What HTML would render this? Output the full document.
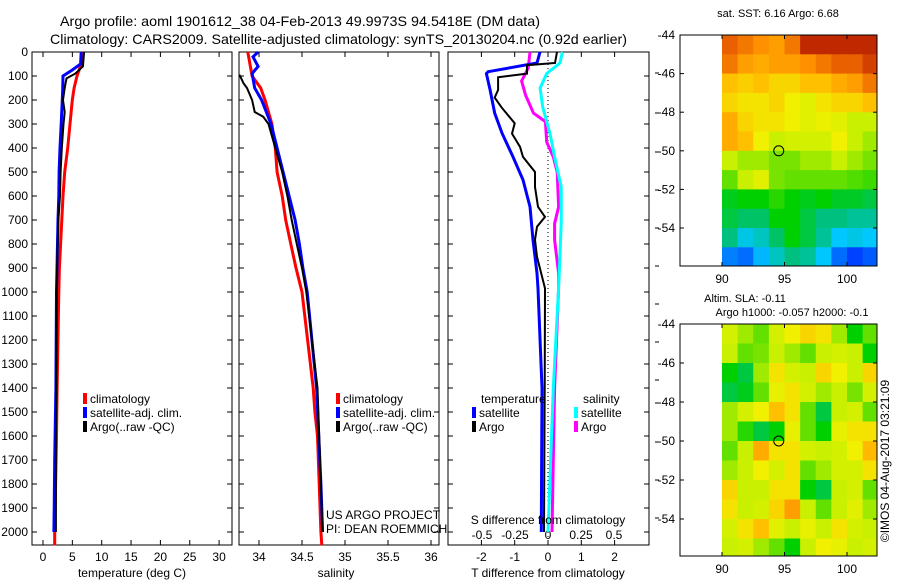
<!DOCTYPE html>
<html><head><meta charset="utf-8">
<style>
html,body{margin:0;padding:0;background:#fff;}
svg{display:block;font-family:"Liberation Sans",sans-serif;}
</style></head>
<body>
<svg id="fig" width="900" height="580" viewBox="0 0 900 580" xmlns="http://www.w3.org/2000/svg">
<text x="60" y="26" font-size="14" textLength="480" lengthAdjust="spacingAndGlyphs">Argo profile: aoml 1901612_38 04-Feb-2013 49.9973S 94.5418E (DM data)</text>
<text x="50" y="44" font-size="14" textLength="577" lengthAdjust="spacingAndGlyphs">Climatology: CARS2009. Satellite-adjusted climatology: synTS_20130204.nc (0.92d earlier)</text>
<g id="g"></g>
</svg>
<script>
// ---- data ----
const tempClimDepth=[0,50,100,150,200,300,400,500,600,700,800,900,1000,1400,1600,2000,2055];
const tempClim=[6.6,6.5,5.8,5.3,5.0,4.6,4.2,3.7,3.4,3.2,3.0,2.8,2.7,2.4,2.3,2.0,2.0];
const tempSatDepth=[0,50,75,100,160,300,400,500,600,700,1000,1400,1700,1900,2000];
const tempSat=[6.5,6.4,5.0,3.4,3.35,3.1,2.9,2.75,2.7,2.55,2.3,2.2,2.0,1.9,1.85];
const tempArgoDepth=[0,60,90,110,150,200,250,300,400,500,600,700,800,1000,1400,1600,2000];
const tempArgo=[7.0,6.8,5.5,4.0,3.7,3.4,3.7,3.5,3.2,3.0,2.9,2.6,2.5,2.3,2.3,2.2,2.2];

const salClimDepth=[0,100,150,200,300,400,500,600,700,800,900,1000,1400,1500,1600,1800,2000,2055];
const salClim=[33.87,33.92,34.02,34.07,34.15,34.19,34.21,34.27,34.31,34.37,34.43,34.5,34.63,34.65,34.68,34.7,34.72,34.73];
const salSatDepth=[0,20,60,90,150,200,300,400,500,600,700,800,900,1000,1400,1800,2000];
const salSat=[33.99,33.93,33.99,33.92,33.95,34.03,34.14,34.21,34.28,34.35,34.42,34.47,34.51,34.56,34.67,34.72,34.74];
const salArgoDepth=[95,100,130,150,200,250,270,300,400,500,600,700,800,900,1000,1400,1800,2000];
const salArgo=[33.77,33.78,33.82,33.86,33.92,33.95,34.05,34.11,34.19,34.27,34.33,34.38,34.44,34.5,34.55,34.68,34.72,34.74];

const dTSatDepth=[0,46,82,90,158,255,338,437,533,645,783,922,985,1400,2000];
const dTSat=[-0.24,-0.33,-1.8,-1.85,-1.74,-1.6,-1.38,-1.05,-0.75,-0.54,-0.45,-0.33,-0.3,-0.18,-0.2];
const dTArgoDepth=[0,46,55,90,105,158,190,230,297,340,395,437,500,562,645,687,728,783,853,985,1400,2000];
const dTArgo=[0.27,0.21,-0.63,-0.63,-1.5,-1.5,-1.6,-1.4,-1.0,-1.08,-0.84,-0.75,-0.39,-0.39,-0.3,-0.09,-0.33,-0.39,-0.33,-0.09,-0.1,-0.12];
const dSArgoDepth=[0,67,121,180,255,290,375,437,500,645,715,783,922,985,1400,2000];
const dSArgo=[-0.136,-0.15,-0.2,-0.17,-0.11,-0.02,-0.01,0.04,0.07,0.08,0.05,0.05,0.08,0.08,0.05,0.03];
const dSSatDepth=[0,46,90,150,229,340,437,562,715,853,985,1400,2000];
const dSSat=[0.11,0.09,-0.01,-0.06,-0.04,0.015,0.05,0.1,0.1,0.09,0.08,0.04,0.0];

const depthTicks=[0,100,200,300,400,500,600,700,800,900,1000,1100,1200,1300,1400,1500,1600,1700,1800,1900,2000];
const tempTicks=[0,5,10,15,20,25,30];
const salTicks=[34,34.5,35,35.5,36];
const salTickLabels=["34","34.5","35","35.5","36"];
const dTTicks=[-2,-1,0,1,2];
const dSTicks=[-0.5,-0.25,0,0.25,0.5];
const dSTickLabels=["-0.5","-0.25","0","0.25","0.5"];
const latTicks=[-44,-46,-48,-50,-52,-54];
const lonTicks=[90,95,100];

const sstGrid=[
[.88,.85,.82,.8,.85,.95,.95,.95,.95,.95],
[.85,.8,.78,.8,.8,.82,.85,.88,.88,.92],
[.75,.73,.75,.72,.72,.75,.75,.78,.8,.85],
[.72,.7,.7,.72,.68,.65,.7,.72,.72,.75],
[.78,.72,.7,.7,.68,.65,.67,.65,.6,.6],
[.78,.75,.68,.6,.62,.62,.62,.68,.6,.58],
[.6,.58,.58,.56,.56,.58,.58,.6,.58,.56],
[.55,.6,.65,.56,.55,.55,.55,.55,.54,.53],
[.48,.5,.5,.52,.5,.48,.5,.47,.47,.45],
[.45,.42,.42,.5,.5,.45,.4,.4,.38,.38],
[.4,.32,.35,.42,.5,.45,.38,.3,.32,.3],
[.22,.2,.28,.35,.4,.38,.3,.2,.15,.18]];
const slaGrid=[
[.62,.58,.55,.62,.68,.72,.7,.58,.5,.55],
[.6,.55,.56,.6,.58,.55,.6,.62,.6,.5],
[.5,.45,.58,.7,.62,.6,.72,.68,.6,.72],
[.45,.48,.55,.66,.7,.62,.58,.6,.56,.62],
[.58,.62,.68,.75,.7,.55,.45,.6,.62,.55],
[.58,.52,.45,.5,.66,.55,.5,.66,.7,.7],
[.55,.6,.78,.7,.7,.62,.6,.62,.68,.76],
[.58,.6,.68,.62,.7,.55,.58,.62,.62,.7],
[.72,.6,.6,.7,.7,.5,.45,.6,.62,.55],
[.7,.6,.62,.72,.8,.6,.55,.6,.65,.58],
[.62,.7,.75,.65,.6,.66,.6,.7,.62,.6],
[.6,.62,.58,.55,.5,.6,.68,.66,.6,.62]];
const floatLon=94.54, floatLat=-50.0;

// ---- helpers ----
const NS="http://www.w3.org/2000/svg";
const G=document.getElementById('g');
function mk(tag,at,parent){const e=document.createElementNS(NS,tag);for(const k in at)e.setAttribute(k,at[k]);(parent||G).appendChild(e);return e;}
function txt(x,y,s,size,anchor,name){const t=mk('text',{x:x,y:y,'font-size':size||12,'text-anchor':anchor||'start'});t.textContent=s;


return t;}
const yD=d=>52+d*0.24;
const PT=52,PB=545;
const xT=v=>43+v*5.87;
const xS=v=>259+(v-34)*86;
const xDT=v=>548+v*33.3;
const xDS=v=>548+v*132;

function panel(l,r,name){
 const b=mk('rect',{x:l,y:PT,width:r-l,height:PB-PT,fill:'none',stroke:'#000','stroke-width':1});
 
 
 depthTicks.forEach(d=>{mk('line',{x1:l,x2:l+5,y1:yD(d),y2:yD(d),stroke:'#000'});mk('line',{x1:r,x2:r-5,y1:yD(d),y2:yD(d),stroke:'#000'});});
}
function line(ds,vs,fx,color,w,name){
 let p=ds.map((d,i)=>fx(vs[i]).toFixed(1)+','+yD(d).toFixed(1)).join(' ');
 const e=mk('polyline',{points:p,fill:'none',stroke:color,'stroke-width':w,'stroke-linejoin':'miter'});
 
 
}
function xticks(arr,fx,labels,ly,name){
 arr.forEach((v,i)=>{const x=fx(v);mk('line',{x1:x,x2:x,y1:PT,y2:PT+5,stroke:'#000'});mk('line',{x1:x,x2:x,y1:PB,y2:PB-5,stroke:'#000'});
 txt(x,ly,labels?labels[i]:String(v),12,'middle',name);});
}
function legItem(x,y,color,label,name){
 const r=mk('rect',{x:x,y:y-10,width:4,height:11,fill:color});
 
 
 txt(x+7,y,label,12,'start',name);
}

// ---- panel 1: temperature ----
panel(32,232,'temperature-panel');
depthTicks.forEach(d=>txt(28,yD(d)+4,String(d),12,'end','depth-tick-label'));
xticks(tempTicks,xT,null,561,'temperature-tick-label');
txt(132,577,'temperature (deg C)',12,'middle','temperature-axis-title');
line(tempClimDepth,tempClim,xT,'#f00',3,'temp-climatology-line');
line(tempSatDepth,tempSat,xT,'#00f',3,'temp-satellite-line');
line(tempArgoDepth,tempArgo,xT,'#000',2,'temp-argo-line');
legItem(83,403,'#f00','climatology','legend-climatology');
legItem(83,417,'#00f','satellite-adj. clim.','legend-satellite');
legItem(83,431,'#000','Argo(..raw -QC)','legend-argo');

// ---- panel 2: salinity ----
panel(239,439,'salinity-panel');
xticks(salTicks,xS,salTickLabels,561,'salinity-tick-label');
txt(336,577,'salinity',12,'middle','salinity-axis-title');
line(salClimDepth,salClim,xS,'#f00',3,'sal-climatology-line');
line(salSatDepth,salSat,xS,'#00f',3,'sal-satellite-line');
line(salArgoDepth,salArgo,xS,'#000',2,'sal-argo-line');
legItem(336,403,'#f00','climatology','legend-climatology-2');
legItem(336,417,'#00f','satellite-adj. clim.','legend-satellite-2');
legItem(336,431,'#000','Argo(..raw -QC)','legend-argo-2');
txt(326,519,'US ARGO PROJECT',12,'start','credit-project');
txt(326,533,'PI: DEAN ROEMMICH',12,'start','credit-pi');

// ---- panel 3: differences ----
panel(448,649,'difference-panel');
mk('line',{x1:548,x2:548,y1:PT,y2:PB,stroke:'#000','stroke-dasharray':'1,3'});
xticks(dTTicks,xDT,null,561,'dT-tick-label');
txt(548,577,'T difference from climatology',12,'middle','dT-axis-title');
dSTicks.forEach((v,i)=>txt(xDS(v),539,dSTickLabels[i],12,'middle','dS-tick-label'));
line(dSArgoDepth,dSArgo,xDS,'#f0f',3,'dS-argo-line');
line(dSSatDepth,dSSat,xDS,'#0ff',3,'dS-satellite-line');
line(dTSatDepth,dTSat,xDT,'#00f',3,'dT-satellite-line');
line(dTArgoDepth,dTArgo,xDT,'#000',2,'dT-argo-line');
txt(481,403,'temperature',12,'start','legend-temperature-header');
txt(583,403,'salinity',12,'start','legend-salinity-header');
legItem(472,417,'#00f','satellite','legend-dT-satellite');
legItem(472,431,'#000','Argo','legend-dT-argo');
legItem(574,417,'#0ff','satellite','legend-dS-satellite');
legItem(574,431,'#f0f','Argo','legend-dS-argo');
txt(548,524,'S difference from climatology',12,'middle','dS-axis-title');
[73,113,152,190,228,266,304,342,380,403,442,480,518].forEach(y=>mk('line',{x1:655,x2:659,y1:y,y2:y,stroke:'#000'}));

// ---- maps ----
const cmapStops=[[0,[0,0,160]],[0.15,[0,64,255]],[0.3,[0,200,255]],[0.4,[0,192,128]],[0.5,[0,208,0]],[0.6,[200,240,0]],[0.68,[240,240,0]],[0.75,[255,192,0]],[0.82,[255,144,0]],[0.9,[224,80,0]],[1,[160,0,0]]];
function cmap(v){
 v=Math.max(0,Math.min(1,v));
 for(let i=1;i<cmapStops.length;i++){
  const [a,ca]=cmapStops[i-1],[b,cb]=cmapStops[i];
  if(v<=b){const t=(v-a)/(b-a);return 'rgb('+ca.map((c,k)=>Math.round(c+(cb[k]-c)*t)).join(',')+')';}
 }
 return 'rgb(160,0,0)';
}
function map(top,bot,latScale,grid,name){
 const L=680,R=877;
 const xL=lon=>722+(lon-90)*12.5;
 const yL=lat=>top+(-44-lat)*latScale;
 const lonStep=1.25;
 grid.forEach((row,i)=>row.forEach((v,j)=>{
  const x0=xL(90+j*lonStep),x1=Math.min(R,xL(90+(j+1)*lonStep));
  const y0=yL(-44-i),y1=Math.min(bot,yL(-45-i));
  const r=mk('rect',{x:x0,y:y0,width:x1-x0+0.5,height:y1-y0+0.5,fill:cmap(v)});
  
  
 }));
 const b=mk('rect',{x:L,y:top,width:R-L,height:bot-top,fill:'none',stroke:'#000'});
 
 
 latTicks.forEach(l=>{const y=yL(l);mk('line',{x1:L,x2:L+4,y1:y,y2:y,stroke:'#000'});mk('line',{x1:R,x2:R-4,y1:y,y2:y,stroke:'#000'});txt(675,y+4,String(l),12,'end',name+'-lat-label');});
 lonTicks.forEach(l=>{const x=xL(l);mk('line',{x1:x,x2:x,y1:bot,y2:bot-4,stroke:'#000'});mk('line',{x1:x,x2:x,y1:top,y2:top+4,stroke:'#000'});txt(x,bot+17,String(l),12,'middle',name+'-lon-label');});
 const c=mk('circle',{cx:xL(floatLon),cy:yL(floatLat),r:5,fill:'none',stroke:'#000','stroke-width':1});
 
 
}
map(35,266,19.3,sstGrid,'sst-map');
txt(778,17,'sat. SST: 6.16 Argo: 6.68',11,'middle','sst-map-title');
map(324,556,19.5,slaGrid,'sla-map');
txt(745,302,'Altim. SLA: -0.11',11,'middle','sla-map-title-1');
txt(792,316,'Argo h1000: -0.057 h2000: -0.1',11,'middle','sla-map-title-2');
const ts=txt(0,0,'©IMOS 04-Aug-2017 03:21:09',12,'middle','imos-timestamp');
ts.setAttribute('transform','translate(889,461) rotate(-90)');
</script>
</body></html>
